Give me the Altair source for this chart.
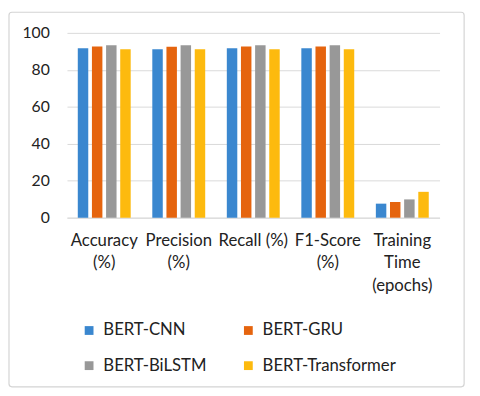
import altair as alt
import pandas as pd

categories = ["Accuracy|(%)", "Precision|(%)", "Recall (%)", "F1-Score|(%)", "Training|Time|(epochs)"]
models = ["BERT-CNN", "BERT-GRU", "BERT-BiLSTM", "BERT-Transformer"]
colors = ["#3A87CF", "#E5640E", "#989898", "#FDBA0E"]

bert_cnn = [91.7, 91.1, 91.7, 91.7, 7.6]
bert_gru = [92.7, 92.5, 92.7, 92.7, 8.5]
bert_bilstm = [93.3, 93.3, 93.3, 93.3, 9.9]
bert_transformer = [91.1, 91.1, 91.1, 91.1, 14.0]

series = [bert_cnn, bert_gru, bert_bilstm, bert_transformer]
rows = []
for m, vals in zip(models, series):
    for c, v in zip(categories, vals):
        rows.append({"metric": c, "model": m, "value": v})
df = pd.DataFrame(rows)

# legend fills column-major; reorder so rows read CNN | GRU, BiLSTM | Transformer
legend_order = [models[0], models[2], models[1], models[3]]
legend_colors = [colors[0], colors[2], colors[1], colors[3]]

W, H = 379, 188
FONT = "Lato"

frame = alt.Chart(pd.DataFrame({"a": [0]})).mark_rect(
    filled=False, stroke="#d4d4d4", strokeWidth=1.2, cornerRadius=3
).encode(
    x=alt.value(-59), x2=alt.value(W + 25), y=alt.value(-21), y2=alt.value(H + 172)
)

bars = alt.Chart(df).mark_bar().encode(
    x=alt.X("metric:N", sort=categories, title=None,
            scale=alt.Scale(paddingInner=0.29, paddingOuter=0.145),
            axis=alt.Axis(labelAngle=0, labelExpr="split(datum.value, '|')",
                          labelFontSize=17, labelFont=FONT, labelColor="#222222",
                          labelLineHeight=23, labelBaseline="top", labelPadding=15,
                          ticks=False, domainColor="#d9d9d9", labelLimit=200)),
    xOffset=alt.XOffset("model:N", sort=models, scale=alt.Scale(paddingInner=0.26)),
    y=alt.Y("value:Q", title=None, scale=alt.Scale(domain=[0, 100]),
            axis=alt.Axis(values=[0, 20, 40, 60, 80, 100], domain=False, ticks=False,
                          gridColor="#d9d9d9", labelFontSize=16, labelFont=FONT,
                          labelColor="#222222", labelPadding=18)),
    color=alt.Color("model:N", title=None,
                    scale=alt.Scale(domain=legend_order, range=legend_colors),
                    legend=alt.Legend(orient="none", legendX=14, legendY=294, columns=2,
                                      symbolType="square", symbolSize=80, symbolStrokeWidth=0,
                                      labelFontSize=17, labelFont=FONT, labelColor="#222222",
                                      columnPadding=34, rowPadding=18, labelOffset=6,
                                      labelLimit=250)),
)

chart = alt.layer(frame, bars).properties(
    width=W, height=H,
    autosize=alt.AutoSizeParams(type="none"),
    padding={"left": 60, "top": 22, "right": 33, "bottom": 175},
    background="white",
).configure_view(stroke=None)

chart.save("out.html", embed_options={"renderer": "svg", "actions": False})
